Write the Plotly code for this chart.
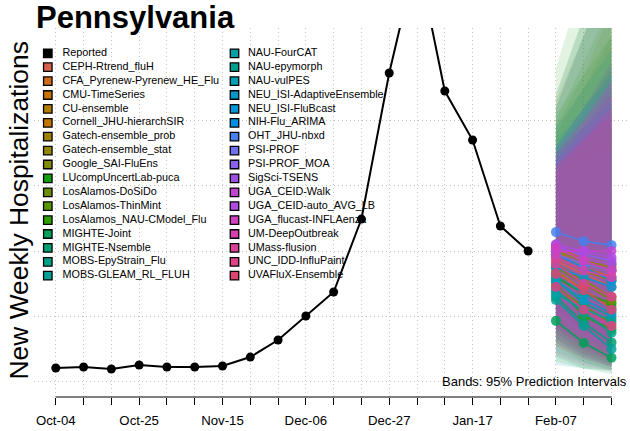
import plotly.graph_objects as go
from datetime import datetime, timedelta

# ---------------- data ----------------
week_dates = ["2025-10-04", "2025-10-11", "2025-10-18", "2025-10-25", "2025-11-01",
              "2025-11-08", "2025-11-15", "2025-11-22", "2025-11-29", "2025-12-06",
              "2025-12-13", "2025-12-20", "2025-12-27", "2026-01-03", "2026-01-10",
              "2026-01-17", "2026-01-24", "2026-01-31", "2026-02-07", "2026-02-14",
              "2026-02-21"]
tick_labels = ["Oct-04", "", "", "Oct-25", "", "", "Nov-15", "", "", "Dec-06", "", "",
               "Dec-27", "", "", "Jan-17", "", "", "Feb-07", "", ""]

reported_dates = week_dates[:18]
reported_values = [207, 222, 192, 253, 222, 222, 238, 375, 636, 1004, 1372, 2490,
                   4728, 6536, 4452, 3701, 2383, 2000]

forecast_dates = ["2026-02-07", "2026-02-14", "2026-02-21"]

models = ["CEPH-Rtrend_fluH", "CFA_Pyrenew-Pyrenew_HE_Flu", "CMU-TimeSeries", "CU-ensemble",
          "Cornell_JHU-hierarchSIR", "Gatech-ensemble_prob", "Gatech-ensemble_stat",
          "Google_SAI-FluEns", "LUcompUncertLab-puca", "LosAlamos-DoSiDo", "LosAlamos-ThinMint",
          "LosAlamos_NAU-CModel_Flu", "MIGHTE-Joint", "MIGHTE-Nsemble", "MOBS-EpyStrain_Flu",
          "MOBS-GLEAM_RL_FLUH", "NAU-FourCAT", "NAU-epymorph", "NAU-vulPES",
          "NEU_ISI-AdaptiveEnsemble", "NEU_ISI-FluBcast", "NIH-Flu_ARIMA", "OHT_JHU-nbxd",
          "PSI-PROF", "PSI-PROF_MOA", "SigSci-TSENS", "UGA_CEID-Walk", "UGA_CEID-auto_AVG_LB",
          "UGA_flucast-INFLAenza", "UM-DeepOutbreak", "UMass-flusion", "UNC_IDD-InfluPaint",
          "UVAFluX-Ensemble"]

model_colors = ["#D9604C", "#CF6A1E", "#C77300", "#B27C00", "#C27600", "#9F8200", "#918800",
                "#828C00", "#0FA010", "#6E8E00", "#5A9600", "#2E9E00", "#00A05A", "#00A072",
                "#00A285", "#00A096", "#00A0A6", "#00A090", "#00A0B4", "#0099C8", "#0096D8",
                "#0090E8", "#4580EE", "#6F70F0", "#8A62EE", "#A050E0", "#C242D0", "#B04AE2",
                "#D040C0", "#D840B0", "#DE4098", "#E04088", "#E04470"]

median_h1 = [1850, 2000, 1950, 1700, 2050, 1900, 2000, 1800, 1600, 1750, 1450, 1500, 930,
             1300, 1400, 1250, 1350, 1550, 1650, 1550, 1750, 1950, 2290, 1950, 2050, 2100,
             2000, 2100, 2050, 1900, 1800, 1450, 1650]
median_h2 = [1650, 1750, 1800, 1400, 1900, 1700, 1850, 1550, 1350, 1500, 1150, 1000, 590,
             900, 1050, 850, 1100, 1200, 1350, 1250, 1600, 1750, 2150, 1800, 1950, 1900,
             2000, 2000, 1850, 1700, 1500, 1100, 1400]
median_h3 = [1450, 1600, 1700, 1150, 1800, 1550, 1750, 1300, 1200, 1250, 900, 800, 365,
             600, 750, 500, 950, 1000, 1100, 1050, 1450, 1550, 2090, 1700, 1850, 1800,
             2000, 1900, 1700, 1600, 1300, 850, 1100]

lower_h1 = [1000, 1200, 1100, 850, 1100, 950, 1200, 850, 300, 750, 650, 550, 380, 600, 650,
            450, 250, 750, 850, 800, 950, 650, 1300, 900, 950, 800, 850, 950, 800, 700, 600,
            400, 550]
lower_h2 = [700, 900, 800, 550, 800, 650, 950, 550, 200, 450, 400, 300, 200, 350, 420, 280,
            200, 480, 600, 550, 700, 380, 1100, 650, 700, 500, 600, 700, 520, 450, 380, 240,
            350]
lower_h3 = [450, 650, 600, 350, 550, 400, 750, 300, 150, 250, 250, 180, 110, 220, 280, 170,
            180, 330, 420, 380, 500, 230, 950, 450, 500, 330, 420, 500, 330, 300, 230, 160,
            220]
upper_h1 = [3500, 3400, 3900, 3600, 4300, 3800, 3200, 4400, 4800, 4200, 4000, 4100, 2700,
            3500, 3200, 3900, 4400, 3700, 3500, 3400, 3600, 4200, 3600, 3400, 3500, 3600,
            3300, 3400, 3500, 3300, 3500, 3200, 3300]
upper_h2 = [4100, 3900, 4700, 4200, 5300, 4500, 3500, 5600, 6200, 5300, 4900, 4700, 2600,
            3900, 3400, 4500, 5600, 4200, 3900, 3800, 4200, 5300, 4100, 3900, 4000, 4200,
            3900, 3800, 4000, 3700, 4000, 3700, 3700]
upper_h3 = [4800, 4500, 5700, 4900, 6400, 5300, 3900, 6900, 7700, 6500, 5800, 5300, 2600,
            4300, 3600, 5100, 7000, 4700, 4300, 4100, 4800, 6400, 4600, 4400, 4600, 4900,
            4400, 4200, 4600, 4100, 4600, 4200, 4100]

y_grid_values = [0, 1000, 2000, 3000, 4000]

# ---------------- layout helpers ----------------
W, H = 630, 431
PL, PR, PT, PB = 34, 630, 28, 397   # plot area in pixels
FONT = "Liberation Sans, Arial, Helvetica, sans-serif"


def px_x(px):
    return (px - PL) / (PR - PL)


def px_y(py):
    return (PB - py) / (PB - PT)


def rgba(hex_color, a):
    h = hex_color.lstrip("#")
    return "rgba(%d,%d,%d,%.3f)" % (int(h[0:2], 16), int(h[2:4], 16), int(h[4:6], 16), a)


first = datetime.strptime(week_dates[0], "%Y-%m-%d")
last = datetime.strptime(week_dates[-1], "%Y-%m-%d")
x_range = [(first - timedelta(days=5.49)).strftime("%Y-%m-%d %H:%M:%S"),
           (last + timedelta(days=4.66)).strftime("%Y-%m-%d %H:%M:%S")]
y_range = [-237, 5418]

fig = go.Figure()

# ---------------- legend (drawn on base pixel axes, under the data) ----------------
legend_labels = ["Reported"] + models
legend_colors = ["#000000"] + model_colors
rows = 17
col_sq_x = [47.8, 234.5]
col_tx_x = [62.5, 248.0]
row0, row_step = 53.3, 13.9
sq_x, sq_y, tx_x, tx_y = [], [], [], []
for i, lab in enumerate(legend_labels):
    c, r = divmod(i, rows)
    sq_x.append(col_sq_x[c])
    sq_y.append(row0 + r * row_step)
    tx_x.append(col_tx_x[c])
    tx_y.append(row0 + r * row_step)

fig.add_trace(go.Scatter(
    x=sq_x, y=sq_y, mode="markers", xaxis="x", yaxis="y",
    marker=dict(symbol="square", size=8.5, color=legend_colors,
                line=dict(color="#000000", width=1.3)),
    hoverinfo="skip", showlegend=False))
fig.add_trace(go.Scatter(
    x=tx_x, y=tx_y, mode="text", text=legend_labels, textposition="middle right",
    textfont=dict(family=FONT, size=10.8, color="#000000"), xaxis="x", yaxis="y",
    hoverinfo="skip", showlegend=False))

# ---------------- prediction bands ----------------
for i, m in enumerate(models):
    xs = forecast_dates + forecast_dates[::-1]
    ys = [lower_h1[i], lower_h2[i], lower_h3[i], upper_h3[i], upper_h2[i], upper_h1[i]]
    fig.add_trace(go.Scatter(
        x=xs, y=ys, mode="lines", fill="toself", fillcolor=rgba(model_colors[i], 0.12),
        line=dict(width=0, color=rgba(model_colors[i], 0)), xaxis="x2", yaxis="y2",
        hoverinfo="skip", showlegend=False))

# ---------------- reported ----------------
fig.add_trace(go.Scatter(
    x=reported_dates, y=reported_values, mode="lines+markers", name="Reported",
    line=dict(color="#000000", width=2), marker=dict(color="#000000", size=9),
    xaxis="x2", yaxis="y2", showlegend=False))

# ---------------- medians ----------------
for i, m in enumerate(models):
    fig.add_trace(go.Scatter(
        x=forecast_dates, y=[median_h1[i], median_h2[i], median_h3[i]],
        mode="lines+markers", name=m, opacity=0.85,
        line=dict(color=model_colors[i], width=1.8),
        marker=dict(color=model_colors[i], size=10),
        xaxis="x2", yaxis="y2", showlegend=False))

# axis line from first to last tick (R style)
fig.add_shape(type="line", xref="x2", yref="paper", x0=week_dates[0], x1=week_dates[-1],
              y0=0, y1=0, line=dict(color="#000000", width=1.2), layer="above")

grid_dash = "1px,3px"
fig.update_layout(
    width=W, height=H,
    margin=dict(l=PL, r=W - PR, t=PT, b=H - PB, pad=0),
    paper_bgcolor="white", plot_bgcolor="white",
    showlegend=False,
    font=dict(family=FONT, color="#000000"),
    xaxis=dict(range=[PL, PR], visible=False, fixedrange=True),
    yaxis=dict(range=[PB, PT], visible=False, fixedrange=True),
    xaxis2=dict(type="date", overlaying="x", anchor="y2", side="bottom", range=x_range,
                tickmode="array", tickvals=week_dates, ticktext=tick_labels,
                ticks="outside", ticklen=7, tickwidth=1, tickcolor="#000000",
                tickfont=dict(family=FONT, size=13.2, color="#000000"),
                ticklabelstandoff=4,
                showgrid=True, gridcolor="#C4C4C4", gridwidth=1, griddash=grid_dash,
                showline=False, zeroline=False),
    yaxis2=dict(overlaying="y", anchor="x2", range=y_range, tickmode="array",
                tickvals=y_grid_values, showticklabels=False, ticks="",
                showgrid=True, gridcolor="#C4C4C4", gridwidth=1, griddash=grid_dash,
                showline=False, zeroline=False),
    annotations=[
        dict(text="<b>Pennsylvania</b>", xref="paper", yref="paper", x=px_x(34),
             y=px_y(17.5), xanchor="left", yanchor="middle", showarrow=False,
             font=dict(family=FONT, size=31, color="#000000")),
        dict(text="New Weekly Hospitalizations", xref="paper", yref="paper", x=px_x(18.5),
             y=px_y(211), xanchor="center", yanchor="middle", textangle=-90,
             showarrow=False, font=dict(family=FONT, size=26.4, color="#000000")),
        dict(text="Bands: 95% Prediction Intervals", xref="paper", yref="paper",
             x=px_x(629), y=px_y(381.5), xanchor="right", yanchor="middle",
             showarrow=False, font=dict(family=FONT, size=13, color="#000000")),
    ],
)

fig.write_html("out.html", config={"displayModeBar": False},
               post_script="document.body.style.margin='0px';")
